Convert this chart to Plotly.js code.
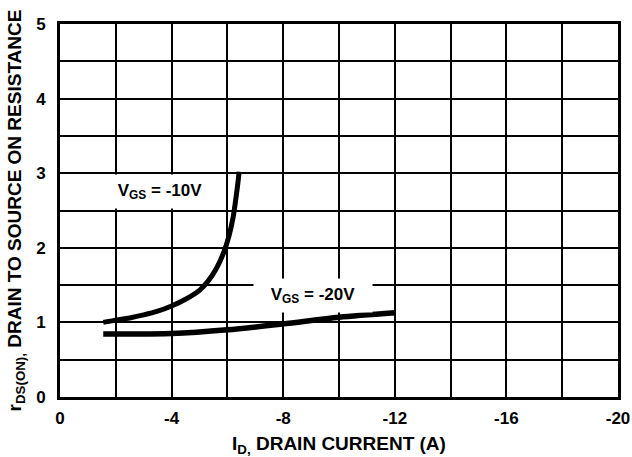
<!DOCTYPE html>
<html><head><meta charset="utf-8">
<script src="https://cdn.plot.ly/plotly-3.0.1.min.js"></script>
<style>html,body{margin:0;padding:0;background:#fff}#c{width:632px;height:457px}</style>
</head><body><div id="c"></div>
<script>
// V_GS = -10V curve
const id10 = [-1.55, -2.0, -2.5, -3.0, -3.5, -4.0, -4.5, -5.0, -5.3, -5.6, -5.85, -6.05, -6.2, -6.3, -6.37, -6.42];
const r10  = [1.00, 1.03, 1.06, 1.10, 1.15, 1.22, 1.31, 1.43, 1.55, 1.72, 1.92, 2.15, 2.4, 2.65, 2.85, 3.02];
// V_GS = -20V curve
const id20 = [-1.55, -4.0, -6.0, -8.0, -10.0, -12.0];
const r20  = [0.845, 0.85, 0.90, 0.98, 1.07, 1.13];
const xTickVals = [0, -4, -8, -12, -16, -20];
const xTickText = ['0', '-4', '-8', '-12', '-16', '-20'];
const yTickVals = [0, 1, 2, 3, 4, 5];
const yTickText = ['0', '1', '2', '3', '4', '5'];
const labels = ['V<sub>GS</sub> = -10V', 'V<sub>GS</sub> = -20V'];
const labelX = [-3.6, -9.08];
const labelY = [2.75, 1.36];

const FONT = 'Liberation Sans, Arial, sans-serif';
const traces = [
  {x: id10, y: r10, mode: 'lines', line: {color: '#000', width: 5, shape: 'spline', smoothing: 1}, hoverinfo: 'skip'},
  {x: id20, y: r20, mode: 'lines', line: {color: '#000', width: 5.5, shape: 'spline', smoothing: 0.8}, hoverinfo: 'skip'}
];
const axisCommon = {
  showline: true, mirror: true, linecolor: '#000', linewidth: 3,
  showgrid: true, gridcolor: '#000', gridwidth: 2, zeroline: false,
  ticks: 'outside', tickcolor: 'rgba(0,0,0,0)',
  tickfont: {family: FONT, size: 17, color: '#000', weight: 'bold'}
};
const layout = {
  width: 632, height: 457,
  margin: {l: 60, r: 14, t: 24, b: 60},
  paper_bgcolor: '#fff', plot_bgcolor: '#fff',
  showlegend: false,
  xaxis: Object.assign({}, axisCommon, {
    range: [0, -20], tickmode: 'array', tickvals: xTickVals, ticktext: xTickText, ticklen: 4,
    minor: {dtick: 2, showgrid: true, gridcolor: '#000', gridwidth: 2, ticks: ''},
    title: {text: 'I<sub>D,</sub> DRAIN CURRENT (A)', standoff: 12,
      font: {family: FONT, size: 19, color: '#000', weight: 'bold'}}
  }),
  yaxis: Object.assign({}, axisCommon, {
    range: [0, 5], tickmode: 'array', tickvals: yTickVals, ticktext: yTickText, ticklen: 8,
    minor: {dtick: 0.5, showgrid: true, gridcolor: '#000', gridwidth: 2, ticks: ''},
    title: {text: 'r<sub>DS(ON),</sub> DRAIN TO SOURCE ON RESISTANCE', standoff: 10,
      font: {family: FONT, size: 19, color: '#000', weight: 'bold'}}
  }),
  annotations: labels.map((t, i) => ({
    x: labelX[i], y: labelY[i], xref: 'x', yref: 'y', text: t, showarrow: false,
    bgcolor: '#fff', borderpad: 0, width: i === 0 ? 104 : 118, height: 33,
    font: {family: FONT, size: 17, color: '#000', weight: 'bold'}
  }))
};
Plotly.newPlot('c', traces, layout, {displayModeBar: false, staticPlot: true});
</script></body></html>
